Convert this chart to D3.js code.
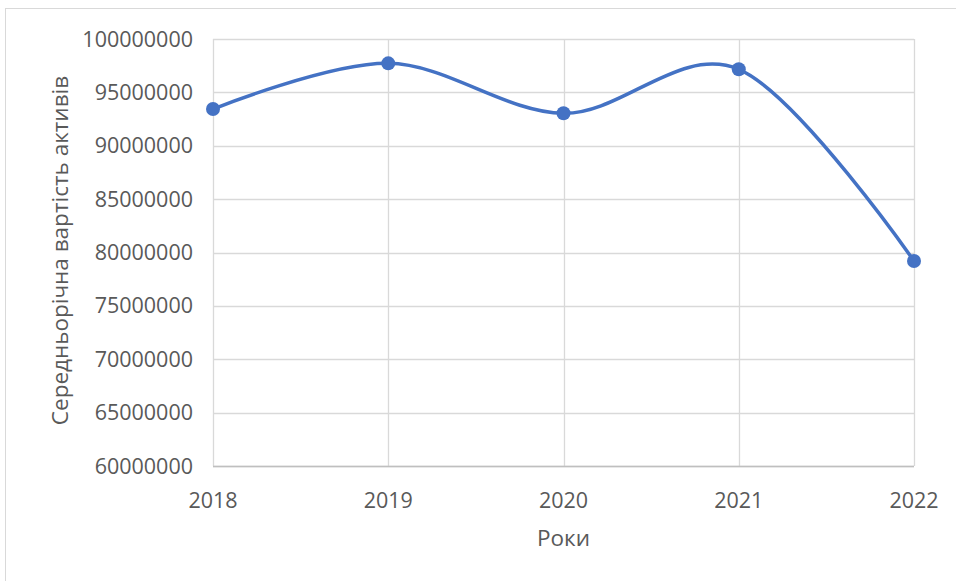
<!DOCTYPE html>
<html>
<head>
  <meta charset="utf-8">
  <script src="https://d3js.org/d3.v7.min.js"></script>
  <style>
    body { margin: 0; background: #fff; }
    svg text { font-family: "Open Sans", sans-serif; fill: #595959; }
  </style>
</head>
<body>
<script>
  // chart data
  var years = ["2018", "2019", "2020", "2021", "2022"];
  var values = [93440000, 97720000, 93040000, 97160000, 79200000];
  var yTicks = [60000000, 65000000, 70000000, 75000000, 80000000, 85000000, 90000000, 95000000, 100000000];

  var W = 956, H = 581;
  var plotLeft = 213, plotRight = 914, plotTop = 39, plotBottom = 466;

  var svg = d3.select("body").append("svg")
      .attr("width", W)
      .attr("height", H);

  // outer chart border
  svg.append("rect")
      .attr("x", 5.5).attr("y", 8.5)
      .attr("width", W + 10).attr("height", H + 10)
      .attr("fill", "none")
      .attr("stroke", "#d9d9d9");

  var x = d3.scalePoint().domain(years).range([plotLeft, plotRight]);
  var y = d3.scaleLinear().domain([60000000, 100000000]).range([plotBottom, plotTop]);

  // horizontal grid
  svg.append("g").selectAll("line")
      .data(yTicks)
      .enter().append("line")
      .attr("x1", plotLeft).attr("x2", plotRight)
      .attr("y1", function(d) { return Math.round(y(d)) + 0.5; })
      .attr("y2", function(d) { return Math.round(y(d)) + 0.5; })
      .attr("stroke", "#d9d9d9")
      .attr("stroke-width", 1.3);

  // vertical grid
  svg.append("g").selectAll("line")
      .data(years)
      .enter().append("line")
      .attr("x1", function(d) { return Math.round(x(d)) + 0.5; })
      .attr("x2", function(d) { return Math.round(x(d)) + 0.5; })
      .attr("y1", plotTop).attr("y2", plotBottom)
      .attr("stroke", "#d9d9d9")
      .attr("stroke-width", 1.3);

  // bottom axis line
  svg.append("line")
      .attr("x1", plotLeft).attr("x2", plotRight)
      .attr("y1", Math.round(plotBottom) + 0.5).attr("y2", Math.round(plotBottom) + 0.5)
      .attr("stroke", "#bfbfbf")
      .attr("stroke-width", 1.3);

  // y tick labels
  svg.append("g").selectAll("text")
      .data(yTicks)
      .enter().append("text")
      .attr("x", plotLeft - 20)
      .attr("y", function(d) { return y(d); })
      .attr("dy", "0.35em")
      .attr("text-anchor", "end")
      .style("font-size", "21.5px")
      .text(function(d) { return d; });

  // x tick labels
  svg.append("g").selectAll("text")
      .data(years)
      .enter().append("text")
      .attr("x", function(d) { return x(d); })
      .attr("y", 500)
      .attr("dy", "0.35em")
      .attr("text-anchor", "middle")
      .style("font-size", "21.5px")
      .text(function(d) { return d; });

  // axis titles
  svg.append("text")
      .attr("x", (plotLeft + plotRight) / 2)
      .attr("y", 538)
      .attr("dy", "0.35em")
      .attr("text-anchor", "middle")
      .style("font-size", "22.5px")
      .text("Роки");

  svg.append("text")
      .attr("transform", "translate(60," + ((plotTop + plotBottom) / 2 - 2) + ") rotate(-90)")
      .attr("dy", "0.35em")
      .attr("text-anchor", "middle")
      .style("font-size", "22.5px")
      .text("Середньорічна вартість активів");

  // smoothed line
  var line = d3.line()
      .x(function(d, i) { return x(years[i]); })
      .y(function(d) { return y(d); })
      .curve(d3.curveCatmullRom.alpha(0));

  svg.append("path")
      .datum(values)
      .attr("d", line)
      .attr("fill", "none")
      .attr("stroke", "#4472c4")
      .attr("stroke-width", 3.5)
      .attr("stroke-linecap", "round");

  svg.append("g").selectAll("circle")
      .data(values)
      .enter().append("circle")
      .attr("cx", function(d, i) { return x(years[i]); })
      .attr("cy", function(d) { return y(d); })
      .attr("r", 7)
      .attr("fill", "#4472c4");
</script>
</body>
</html>
